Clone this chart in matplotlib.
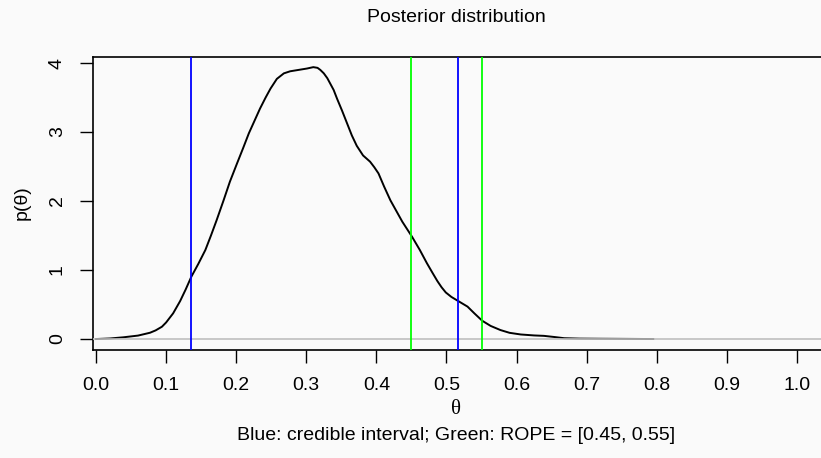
import numpy as np
import matplotlib.pyplot as plt

plt.rcParams['font.family'] = ['Liberation Sans', 'DejaVu Sans']

# posterior density, read as (theta, p) pairs
theta = [0.000, 0.020, 0.039, 0.060, 0.077, 0.085, 0.094, 0.100, 0.110, 0.120,
         0.128, 0.136, 0.146, 0.156, 0.164, 0.172, 0.182, 0.191, 0.201, 0.210,
         0.218, 0.226, 0.234, 0.242, 0.249, 0.258, 0.268, 0.277, 0.289, 0.301,
         0.310, 0.316, 0.320, 0.325, 0.330, 0.339, 0.344, 0.351, 0.358, 0.365,
         0.372, 0.381, 0.391, 0.397, 0.403, 0.411, 0.420, 0.437, 0.451, 0.462,
         0.472, 0.480, 0.487, 0.493, 0.499, 0.507, 0.516, 0.530, 0.540, 0.551,
         0.563, 0.577, 0.590, 0.606, 0.625, 0.639, 0.655, 0.668, 0.690, 0.720,
         0.795]
dens = [0.000, 0.008, 0.025, 0.050, 0.091, 0.125, 0.178, 0.240, 0.372, 0.550,
        0.720, 0.903, 1.090, 1.290, 1.500, 1.720, 2.010, 2.280, 2.540, 2.770,
        2.980, 3.160, 3.340, 3.500, 3.630, 3.770, 3.850, 3.880, 3.900, 3.920,
        3.940, 3.930, 3.900, 3.850, 3.780, 3.610, 3.480, 3.310, 3.130, 2.950,
        2.800, 2.660, 2.570, 2.490, 2.400, 2.210, 2.010, 1.700, 1.480, 1.290,
        1.100, 0.960, 0.840, 0.750, 0.675, 0.610, 0.555, 0.470, 0.370, 0.265,
        0.190, 0.130, 0.090, 0.066, 0.052, 0.046, 0.028, 0.012, 0.006, 0.004,
        0.000]

hdi = [0.136, 0.517]
rope = [0.45, 0.55]

x_ticks = [0.0, 0.1, 0.2, 0.3, 0.4, 0.5, 0.6, 0.7, 0.8, 0.9, 1.0]
y_ticks = [0, 1, 2, 3, 4]

W, H = 821, 458
fig = plt.figure(figsize=(W / 100, H / 100), dpi=100, facecolor='#fafafa')
# right edge of the box runs past the figure edge
ax = fig.add_axes([93 / W, (H - 350) / H, (824 - 93) / W, (350 - 57) / H])
ax.set_facecolor('#fafafa')

ax.plot(theta, dens, color='black', lw=1.4, zorder=2)
ax.axhline(0, color='#bebebe', lw=1.2, zorder=3)
for v in hdi:
    ax.axvline(v, color='#0000ff', lw=1.3, zorder=4)
for v in rope:
    ax.axvline(v, color='#00ff00', lw=1.3, zorder=4)

ax.set_xlim(-0.0043, 1.0386)
ax.set_ylim(-0.159, 4.087)

ax.set_xticks(x_ticks)
ax.set_xticklabels([f'{t:.1f}' for t in x_ticks])
ax.set_yticks(y_ticks)
ax.set_yticklabels([str(t) for t in y_ticks], rotation=90, va='center')
ax.tick_params(direction='out', length=9.5, width=1.0, labelsize=14,
               colors='black', pad=10)
for s in ax.spines.values():
    s.set_linewidth(1.2)

fig.text(456 / W, 1 - 18 / H, 'Posterior distribution', ha='center',
         va='center', fontsize=14)
fig.text(456 / W, 1 - 410 / H, 'θ', ha='center', va='center', fontsize=15,
         family=['Liberation Serif', 'DejaVu Serif'])
fig.text(456 / W, 1 - 436 / H, 'Blue: credible interval; Green: ROPE = [0.45, 0.55]',
         ha='center', va='center', fontsize=14)
fig.text(22 / W, 1 - 203 / H, 'p(θ)', ha='center', va='center', fontsize=14,
         rotation=90)

fig.savefig('out.png', dpi=100, facecolor=fig.get_facecolor())
